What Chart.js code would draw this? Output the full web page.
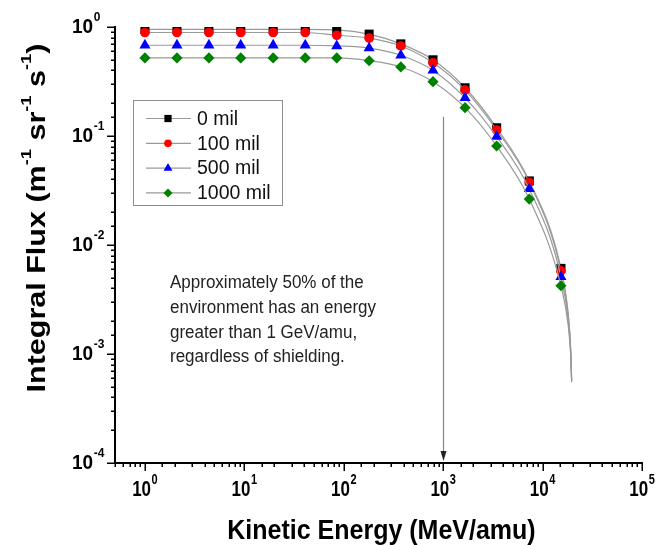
<!DOCTYPE html>
<html>
<head>
<meta charset="utf-8">
<script src="https://cdn.jsdelivr.net/npm/chart.js@4.4.1/dist/chart.umd.min.js"></script>
<style>
  html, body { margin: 0; padding: 0; background: #fff; }
  #wrap { width: 659px; height: 545px; }
</style>
</head>
<body>
<div id="wrap"><canvas id="chart"></canvas></div>
<script>
// ========================================
// Data
// ========================================
const energy = [1, 2.1, 4.4, 9.2, 19.5, 41, 85, 180, 375, 790, 1660, 3450, 7350, 15300];

const flux0    = [0.95, 0.95, 0.95, 0.95, 0.95, 0.95, 0.94, 0.86, 0.70, 0.50, 0.277, 0.119, 0.0387, 0.0061];
const flux100  = [0.89, 0.89, 0.89, 0.89, 0.89, 0.89, 0.84, 0.79, 0.67, 0.47, 0.264, 0.1135, 0.0376, 0.0058];
const flux500  = [0.68, 0.68, 0.68, 0.68, 0.68, 0.68, 0.67, 0.64, 0.55, 0.40, 0.224, 0.0986, 0.0327, 0.00512];
const flux1000 = [0.52, 0.52, 0.52, 0.52, 0.52, 0.52, 0.52, 0.49, 0.43, 0.315, 0.182, 0.081, 0.0264, 0.00423];

// fitted curves run on past the last marker
const tailEnergy = [18150, 19200, 19600];
const tail0    = [0.0023, 0.00110, 0.00058];
const tail100  = [0.0022, 0.00106, 0.00057];
const tail500  = [0.0020, 0.00100, 0.00056];
const tail1000 = [0.0018, 0.00094, 0.00055];

const seriesNames = ['0 mil', '100 mil', '500 mil', '1000 mil'];
const markerColors = ['#000000', '#ff0000', '#0000ff', '#008000'];
const markerStyles = ['rect', 'circle', 'triangle', 'rectRot'];
const markerSizes = [6.4, 4.8, 6.4, 5.6];

const xTickExps = [0, 1, 2, 3, 4, 5];
const yTickExps = [0, -1, -2, -3, -4];

const noteLines = [
    'Approximately 50% of the',
    'environment has an energy',
    'greater than 1 GeV/amu,',
    'regardless of shielding.'
];

const FONT = '"Liberation Sans", Arial, sans-serif';
const LINE_GREY = '#9a9a9a';

const toPoints = (xs, ys) => xs.map((v, i) => ({ x: v, y: ys[i] }));
const isMajor = v => Math.abs(Math.log10(v) - Math.round(Math.log10(v))) < 1e-9;

const makeDataset = (i, flux, tail) => ({
    label: seriesNames[i],
    data: toPoints(energy, flux).concat(toPoints(tailEnergy, tail)),
    borderColor: LINE_GREY,
    borderWidth: 1.2,
    cubicInterpolationMode: 'monotone',
    pointStyle: markerStyles[i],
    pointRadius: ctx => ctx.dataIndex < energy.length ? markerSizes[i] : 0,
    pointBackgroundColor: markerColors[i],
    pointBorderColor: markerColors[i],
    pointBorderWidth: 0,
    order: 3 - i
});

// text with a vertical stretch (the figure's lettering is tall)
function stretchText(ctx, s, x, y, sy) {
    ctx.save();
    ctx.translate(x, y);
    ctx.scale(1, sy);
    ctx.fillText(s, 0, 0);
    ctx.restore();
}

// draw a "10^n" label, left edge at x
function drawPow(ctx, exp, left, y, size, supSize, sy) {
    ctx.textAlign = 'left';
    ctx.textBaseline = 'middle';
    ctx.font = 'bold ' + size + 'px ' + FONT;
    const wb = ctx.measureText('10').width;
    stretchText(ctx, '10', left, y, sy);
    ctx.font = 'bold ' + supSize + 'px ' + FONT;
    stretchText(ctx, String(exp), left + wb + 0.5, y - size * 0.45 * sy, sy);
}

function powWidth(ctx, exp, size, supSize) {
    ctx.font = 'bold ' + size + 'px ' + FONT;
    const wb = ctx.measureText('10').width;
    ctx.font = 'bold ' + supSize + 'px ' + FONT;
    return wb + 0.5 + ctx.measureText(String(exp)).width;
}

// Axes, ticks and labels
const axesPlugin = {
    id: 'axesPlugin',
    afterDraw(chart) {
        const { ctx, chartArea: a, scales: { x, y } } = chart;
        ctx.save();
        ctx.strokeStyle = '#000';
        ctx.fillStyle = '#000';

        ctx.lineWidth = 2;
        ctx.beginPath();
        ctx.moveTo(a.left, a.top - 1);
        ctx.lineTo(a.left, a.bottom);
        ctx.lineTo(a.right + 1, a.bottom);
        ctx.stroke();

        ctx.lineWidth = 1.5;
        x.ticks.forEach(t => {
            const px = Math.round(x.getPixelForValue(t.value)) + 0.25;
            const len = isMajor(t.value) ? 8 : 4;
            ctx.beginPath();
            ctx.moveTo(px, a.bottom);
            ctx.lineTo(px, a.bottom + len);
            ctx.stroke();
        });
        y.ticks.forEach(t => {
            const py = Math.round(y.getPixelForValue(t.value)) + 0.25;
            const len = isMajor(t.value) ? 8 : 4;
            ctx.beginPath();
            ctx.moveTo(a.left, py);
            ctx.lineTo(a.left - len, py);
            ctx.stroke();
        });

        xTickExps.forEach(e => {
            const w = powWidth(ctx, e, 17, 11);
            drawPow(ctx, e, x.getPixelForValue(Math.pow(10, e)) - w / 2, a.bottom + 27, 17, 11, 1.3);
        });
        yTickExps.forEach(e => {
            drawPow(ctx, e, 72, y.getPixelForValue(Math.pow(10, e)), 19, 12, 1.1);
        });

        // axis titles
        ctx.font = 'bold 25px ' + FONT;
        ctx.textAlign = 'center';
        ctx.textBaseline = 'middle';
        stretchText(ctx, 'Kinetic Energy (MeV/amu)', (a.left + a.right) / 2 + 3, 531, 1.1);

        const parts = [
            ['Integral Flux (m', false], ['-1', true], [' sr', false],
            ['-1', true], [' s', false], ['-1', true], [')', false]
        ];
        const fMain = 'bold 25px ' + FONT, fSup = 'bold 15px ' + FONT;
        let total = 0;
        parts.forEach(p => { ctx.font = p[1] ? fSup : fMain; total += ctx.measureText(p[0]).width; });
        ctx.translate(38, 218);
        ctx.rotate(-Math.PI / 2);
        ctx.scale(1.22, 1);
        ctx.textAlign = 'left';
        let cx = -total / 2;
        parts.forEach(p => {
            ctx.font = p[1] ? fSup : fMain;
            ctx.fillText(p[0], cx, p[1] ? -11 : 0);
            cx += ctx.measureText(p[0]).width;
        });
        ctx.restore();
    }
};

// Legend box, arrow and note
const extrasPlugin = {
    id: 'extrasPlugin',
    afterDatasetsDraw(chart) {
        const { ctx, chartArea: a, scales: { x, y } } = chart;
        ctx.save();

        // arrow at 1 GeV/amu
        const ax = Math.round(x.getPixelForValue(1000)) + 0.5;
        ctx.strokeStyle = '#888';
        ctx.lineWidth = 1.2;
        ctx.beginPath();
        ctx.moveTo(ax, y.getPixelForValue(0.15));
        ctx.lineTo(ax, a.bottom - 6);
        ctx.stroke();
        ctx.fillStyle = '#222';
        ctx.beginPath();
        ctx.moveTo(ax - 3, a.bottom - 12);
        ctx.lineTo(ax + 3, a.bottom - 12);
        ctx.lineTo(ax, a.bottom - 2);
        ctx.closePath();
        ctx.fill();

        // note
        ctx.fillStyle = '#222';
        ctx.font = '17px ' + FONT;
        ctx.textAlign = 'left';
        ctx.textBaseline = 'middle';
        noteLines.forEach((s, i) => stretchText(ctx, s, 170, 283 + i * 24.7, 1.1));

        // legend
        ctx.fillStyle = '#fff';
        ctx.fillRect(133.5, 100.5, 149, 105);
        ctx.strokeStyle = '#8c8c8c';
        ctx.lineWidth = 1;
        ctx.strokeRect(133.5, 100.5, 149, 105);
        seriesNames.forEach((name, i) => {
            const ry = 118.5 + i * 24.8;
            ctx.strokeStyle = LINE_GREY;
            ctx.lineWidth = 1.2;
            ctx.beginPath();
            ctx.moveTo(146, ry);
            ctx.lineTo(191, ry);
            ctx.stroke();
            ctx.fillStyle = markerColors[i];
            const r = markerSizes[i] * 0.8;
            ctx.beginPath();
            if (markerStyles[i] === 'rect') {
                const s = r * Math.SQRT1_2;
                ctx.rect(168 - s, ry - s, 2 * s, 2 * s);
            } else if (markerStyles[i] === 'circle') {
                ctx.arc(168, ry, r, 0, Math.PI * 2);
            } else if (markerStyles[i] === 'triangle') {
                ctx.moveTo(168, ry - r);
                ctx.lineTo(168 + r * 0.866, ry + r / 2);
                ctx.lineTo(168 - r * 0.866, ry + r / 2);
                ctx.closePath();
            } else {
                ctx.moveTo(168, ry - r);
                ctx.lineTo(168 + r, ry);
                ctx.lineTo(168, ry + r);
                ctx.lineTo(168 - r, ry);
                ctx.closePath();
            }
            ctx.fill();
            ctx.fillStyle = '#111';
            ctx.font = '19.5px ' + FONT;
            ctx.fillText(name, 197, ry + 1);
        });
        ctx.restore();
    }
};

// ========================================
// Chart
// ========================================
new Chart(document.getElementById('chart'), {
    type: 'line',
    data: {
        datasets: [
            makeDataset(0, flux0, tail0),
            makeDataset(1, flux100, tail100),
            makeDataset(2, flux500, tail500),
            makeDataset(3, flux1000, tail1000)
        ]
    },
    options: {
        responsive: true,
        maintainAspectRatio: false,
        animation: false,
        layout: { padding: { left: 115, right: 17, top: 27, bottom: 82 } },
        plugins: { legend: { display: false }, tooltip: { enabled: false } },
        scales: {
            x: { type: 'logarithmic', min: 0.5, max: 100000, display: false, ticks: { autoSkip: false } },
            y: { type: 'logarithmic', min: 0.0001, max: 1, display: false, ticks: { autoSkip: false } }
        }
    },
    plugins: [extrasPlugin, axesPlugin]
});
</script>
</body>
</html>
